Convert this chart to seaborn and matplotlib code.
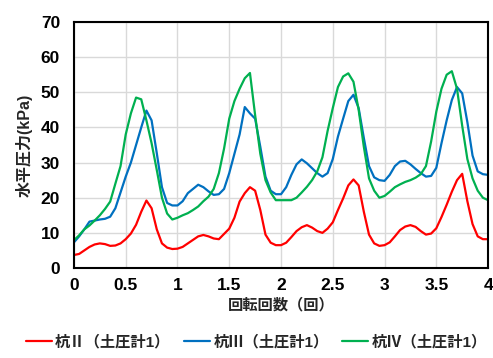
import numpy as np
import pandas as pd
import matplotlib
matplotlib.use("Agg")
import matplotlib.pyplot as plt
import seaborn as sns

# Rotation count (revolutions), sampled every 0.05
rotations = [round(0.05 * i, 2) for i in range(81)]

pile2 = [3.7, 4.0, 5.0, 6.0, 6.7, 7.0, 6.8, 6.3, 6.4, 7.0,
         8.2, 9.8, 12.3, 16.0, 19.2, 17.0, 11.0, 7.0, 5.8, 5.4,
         5.5, 6.0, 7.0, 8.0, 9.0, 9.4, 9.0, 8.4, 8.2, 9.7,
         11.2, 14.3, 18.9, 21.3, 23.0, 22.0, 16.5, 9.5, 7.2, 6.5,
         6.5, 7.2, 8.8, 10.5, 11.6, 12.2, 11.5, 10.5, 10.0, 11.2,
         13.0, 16.5, 19.8, 23.5, 25.2, 23.5, 16.0, 9.5, 7.0, 6.3,
         6.5, 7.3, 9.0, 10.8, 11.8, 12.2, 11.7, 10.5, 9.5, 9.8,
         11.3, 14.5, 18.0, 21.7, 25.0, 26.8, 19.0, 12.5, 9.0, 8.2,
         8.2]

pile3 = [7.3, 9.0, 11.0, 13.2, 13.5, 13.8, 14.0, 14.6, 17.0, 21.5,
         26.0, 30.0, 35.0, 40.0, 44.8, 42.0, 32.7, 23.0, 18.5, 17.8,
         17.8, 19.0, 21.3, 22.5, 23.7, 23.0, 21.8, 20.8, 21.0, 22.5,
         27.0, 32.5, 38.0, 45.8, 44.0, 42.5, 34.5, 26.0, 22.0, 21.0,
         21.0, 23.0, 26.5, 29.5, 30.9, 29.8, 28.4, 27.0, 26.0, 27.0,
         31.0, 37.4, 42.5, 47.5, 49.3, 45.5, 37.0, 29.0, 25.8, 25.0,
         24.8, 26.5, 29.0, 30.3, 30.5, 29.5, 28.2, 27.0, 26.0, 26.2,
         28.5, 35.5, 42.0, 47.8, 51.5, 49.7, 41.5, 32.0, 27.5, 26.7,
         26.5]

pile4 = [7.9, 9.3, 11.0, 12.1, 13.5, 15.0, 16.8, 18.9, 24.0, 29.0,
         38.0, 44.0, 48.5, 48.0, 42.0, 35.5, 27.9, 20.0, 15.5, 13.8,
         14.3, 15.0, 15.6, 16.5, 17.5, 19.0, 20.3, 22.5, 27.0, 34.0,
         42.5, 47.5, 51.0, 54.0, 55.5, 43.5, 32.5, 25.0, 21.5, 19.3,
         19.3, 19.3, 19.3, 20.0, 21.5, 23.1, 25.0, 27.5, 31.5, 39.0,
         45.5, 51.5, 54.5, 55.4, 53.0, 45.0, 34.5, 25.5, 22.0, 20.0,
         20.5, 21.7, 23.0, 23.8, 24.5, 25.0, 25.7, 26.7, 29.0, 36.0,
         44.5, 51.0, 55.0, 56.0, 51.0, 40.5, 31.0, 25.5, 22.0, 20.0,
         19.3]

series_names = ["杭Ⅱ（土圧計1）", "杭Ⅲ（土圧計1）", "杭Ⅳ（土圧計1）"]
series_colors = ["#FF0000", "#0070C0", "#00B050"]
x_ticks = [0, 0.5, 1, 1.5, 2, 2.5, 3, 3.5, 4]
x_tick_labels = ["0", "0.5", "1", "1.5", "2", "2.5", "3", "3.5", "4"]
y_ticks = [0, 10, 20, 30, 40, 50, 60, 70]

df = pd.concat([
    pd.DataFrame({"rot": rotations, "kpa": vals, "series": name})
    for name, vals in zip(series_names, [pile2, pile3, pile4])
], ignore_index=True)

sns.set_theme(style="white")
plt.rcParams["font.family"] = ["Liberation Sans", "Noto Sans CJK JP", "DejaVu Sans"]
plt.rcParams["font.weight"] = "bold"

fig = plt.figure(figsize=(4.93, 3.58), dpi=100)
ax = fig.add_axes([0.150, 0.2514, 0.840, 0.6871])

sns.lineplot(data=df, x="rot", y="kpa", hue="series", hue_order=series_names,
             palette=series_colors, linewidth=1.6, ax=ax, legend=False)

ax.set_xlim(0, 4)
ax.set_ylim(0, 70)
ax.set_xticks(x_ticks)
ax.set_xticklabels(x_tick_labels)
ax.set_yticks(y_ticks)
ax.grid(True, color="#D9D9D9", linewidth=1.0)
ax.set_axisbelow(True)
for sp in ax.spines.values():
    sp.set_color("black")
    sp.set_linewidth(1.5)
ax.tick_params(axis="both", length=0, labelsize=12.5, colors="black")
ax.tick_params(axis="y", pad=10)
ax.tick_params(axis="x", pad=7)
for lab in ax.get_xticklabels() + ax.get_yticklabels():
    lab.set_fontweight("bold")

ax.set_xlabel("回転回数（回）", fontsize=11, fontweight="bold", labelpad=4)
ax.set_ylabel("水平圧力(kPa)", fontsize=11.5, fontweight="bold")
ax.yaxis.set_label_coords(-0.10, 0.5)

handles = [plt.Line2D([], [], color=c, linewidth=1.6) for c in series_colors]
fig.legend(handles, series_names, loc="center", bbox_to_anchor=(0.52, 0.045),
           ncol=3, frameon=False, handlelength=1.7,
           handletextpad=0.2, columnspacing=0.9,
           prop={"weight": "bold", "size": 11})

fig.savefig("out.png", dpi=100)
